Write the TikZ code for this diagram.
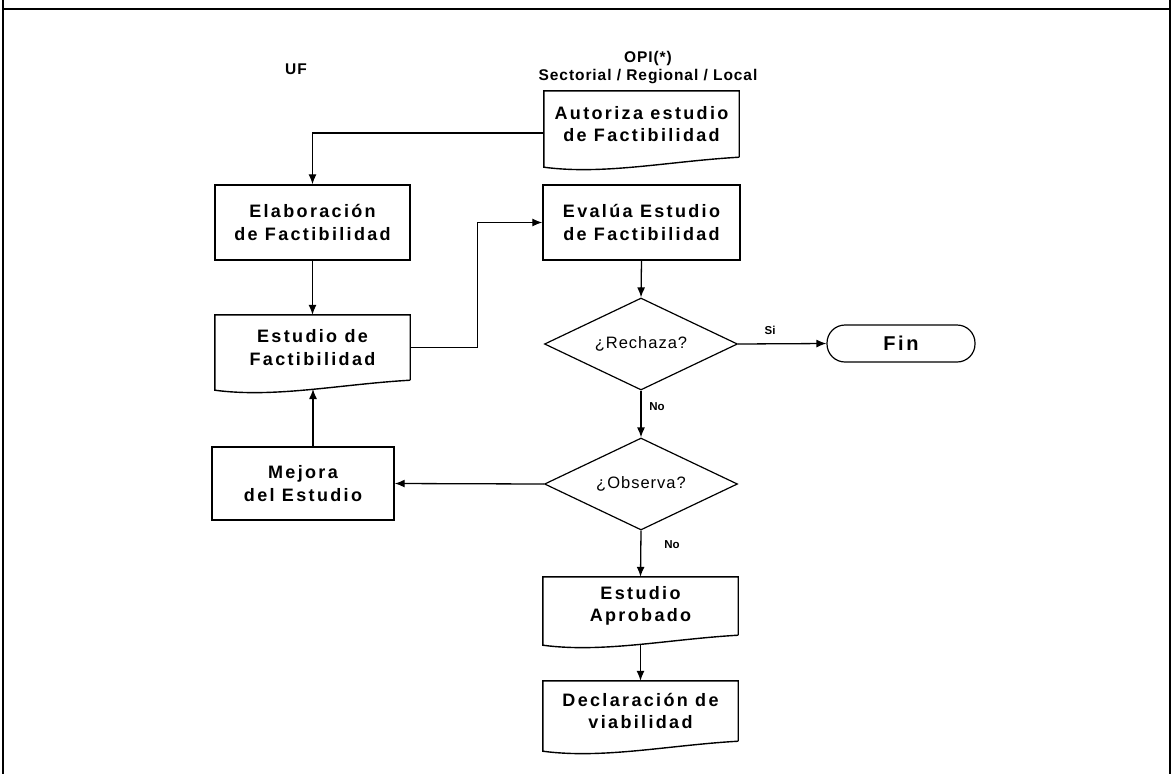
\documentclass[tikz,border=0pt]{standalone}
\usepackage{fontspec}
\setmainfont{Liberation Sans}
\newfontfamily\boxfont[LetterSpace=13]{Liberation Sans}
\newfontfamily\hdrfont[LetterSpace=6]{Liberation Sans}
\newfontfamily\decfont[LetterSpace=6]{Liberation Sans}
\usetikzlibrary{shapes.geometric,arrows.meta}
\newcommand\docoutline[1]{%
  \draw[boxline] (#1.south east) -- (#1.north east) -- (#1.north west) -- ([yshift=-10pt]#1.south west)
    .. controls +(60,8) and +(-70,4) .. (#1.south east);}
\begin{document}
\begin{tikzpicture}[x=1pt,y=-1pt,
  boxline/.style={line width=1.4pt},
  txt/.style={font=\boxfont\bfseries\fontsize{18}{22.5}\selectfont, align=center, inner sep=0pt},
  procbox/.style={txt, draw, line width=1.4pt, minimum width=195pt, minimum height=75pt},
  docbox/.style={txt, minimum width=195pt},
  decision/.style={diamond, draw, line width=1.2pt, inner sep=0pt, aspect=2.1, minimum width=193pt, minimum height=92pt,
    font=\decfont\fontsize{16.5}{19}\selectfont},
  term/.style={draw, line width=1.2pt, rounded corners=18pt, minimum width=148pt, minimum height=37pt,
    font=\boxfont\bfseries\fontsize{20}{24}\selectfont, inner sep=0pt},
  hdr/.style={font=\hdrfont\bfseries\fontsize{15.5}{18}\selectfont, inner sep=0pt},
  lbl/.style={font=\bfseries\fontsize{11.5}{13}\selectfont, inner sep=0pt},
  arr/.style={line width=1.3pt, -{Latex[length=10pt,width=8pt]}},
  frame/.style={line width=2pt}
]
\useasboundingbox (0,0) rectangle (1174,774);
% frame
\draw[frame] (3,0) -- (3,774);
\draw[frame] (1170,0) -- (1170,774);
\draw[frame] (3,9) -- (1170,9);

% headers
\node[hdr] (uf) at (296,69) {UF};
\node[hdr] (opi) at (648,58) {OPI(*)};
\node[hdr] (sec) at (648,77) {Sectorial / Regional / Local};

% nodes
\node[docbox, minimum height=66pt] (aut) at (641.5,124) {Autoriza estudio\\de Factibilidad};
\docoutline{aut}
\node[procbox] (elab) at (312.5,222.5) {Elaboración\\de Factibilidad};
\node[docbox, minimum height=65pt] (estf) at (312.5,347.5) {Estudio de\\Factibilidad};
\docoutline{estf}
\node[procbox, minimum width=197pt] (eval) at (641.5,222.5) {Evalúa Estudio\\de Factibilidad};
\node[decision] (rech) at (641,344) {¿Rechaza?};
\node[term] (fin) at (901,343.5) {Fin};
\node[decision] (obs) at (641,484) {¿Observa?};
\node[procbox, minimum width=182pt, minimum height=73pt] (mej) at (303,483.5) {Mejora\\del Estudio};
\node[docbox, minimum height=58pt] (apr) at (640.5,606) {Estudio\\Aprobado};
\docoutline{apr}
\node[docbox, minimum height=60pt] (decl) at (640.5,711) {Declaración de\\viabilidad};
\docoutline{decl}

% connector end points on document bottoms
\coordinate (estfb) at (313,389);
\coordinate (aprb) at (640.5,645);

% connectors
\draw[arr] ([yshift=-9pt]aut.west) -| (elab.north);
\draw[arr] (elab.south) -- (estf.north);
\draw[arr] (estf.east) -- ++(67,0) |- (eval.west);
\draw[arr] (eval.south) -- (rech.north);
\draw[arr] (rech.east) -- (fin.west);
\node[lbl] (si) at (770,330) {Si};
\draw[arr] (rech.south) -- (obs.north);
\node[lbl] (no1) at (657,407) {No};
\draw[arr] (obs.west) -- (mej.east);
\draw[arr] (mej.north -| estfb) -- (estfb);
\draw[arr] (obs.south) -- (apr.north);
\node[lbl] (no2) at (672,545) {No};
\draw[arr] (aprb) -- (decl.north);
\end{tikzpicture}
\end{document}
